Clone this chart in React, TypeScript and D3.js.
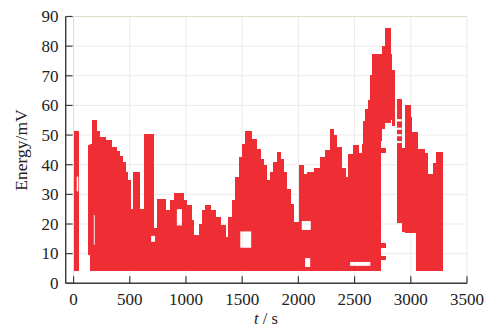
import React from "react";
import * as d3 from "d3";

// Energy envelope segments: each segment is a band of
// dense markers spanning [segT0, segT1] seconds and [segLo, segHi] mV.
const segT0 = [0, 124, 142, 164, 208, 231, 284, 340, 380, 409, 440, 462, 485, 505, 530, 587, 631, 711, 738, 815, 859, 889, 978, 1008, 1053, 1067, 1112, 1141, 1171, 1221, 1260, 1304, 1349, 1378, 1408, 1438, 1468, 1497, 1527, 1586, 1630, 1660, 1689, 1719, 1749, 1778, 1808, 1838, 1867, 1897, 1927, 1958, 2005, 2045, 2075, 2135, 2190, 2238, 2283, 2312, 2342, 2386, 2416, 2445, 2490, 2534, 2563, 2578, 2593, 2623, 2638, 2653, 2727, 2742, 2771, 2816, 2831, 2732, 2732, 2732, 2875, 2919, 2949, 2994, 3008, 3050, 3058, 3127, 3153, 3198, 3225];
const segT1 = [42, 142, 164, 208, 231, 284, 340, 380, 409, 440, 462, 485, 505, 530, 587, 631, 711, 738, 815, 859, 889, 978, 1008, 1053, 1067, 1112, 1141, 1171, 1221, 1260, 1304, 1349, 1378, 1408, 1438, 1468, 1497, 1527, 1586, 1630, 1660, 1689, 1719, 1749, 1778, 1808, 1838, 1867, 1897, 1927, 1958, 2005, 2045, 2075, 2135, 2190, 2238, 2283, 2312, 2342, 2386, 2416, 2445, 2490, 2534, 2563, 2578, 2593, 2623, 2638, 2653, 2727, 2742, 2771, 2816, 2831, 2860, 2772, 2772, 2772, 2919, 2949, 2994, 3008, 3050, 3058, 3127, 3153, 3198, 3225, 3284];
const segLo = [4.2, 9.5, 4.2, 4.2, 4.2, 4.2, 4.2, 4.2, 4.2, 4.2, 4.2, 4.2, 4.2, 4.2, 4.2, 4.2, 4.2, 4.2, 4.2, 4.2, 4.2, 4.2, 4.2, 4.2, 4.2, 4.2, 4.2, 4.2, 4.2, 4.2, 4.2, 4.2, 4.2, 4.2, 4.2, 4.2, 4.2, 4.2, 4.2, 4.2, 4.2, 4.2, 4.2, 4.2, 4.2, 4.2, 4.2, 4.2, 4.2, 4.2, 4.2, 4.2, 4.2, 4.2, 4.2, 4.2, 4.2, 4.2, 4.2, 4.2, 4.2, 4.2, 4.2, 4.2, 4.2, 4.2, 4.2, 4.2, 4.2, 4.2, 4.2, 4.2, 48, 52, 54, 55, 53, 43.8, 11.8, 7.7, 20.2, 17.3, 17, 17, 17, 4.2, 4.2, 4.2, 4.2, 4.2, 4.2];
const segHi = [51.5, 46.5, 47, 55.2, 51.5, 49.5, 48.5, 46, 44.5, 43, 41, 37.5, 35, 25.2, 37.5, 25, 50.4, 18.5, 28.5, 24.6, 28, 30.4, 28, 26.3, 21.2, 16.2, 20.1, 24.6, 26.5, 24.6, 22.3, 19.5, 15.6, 22.3, 28, 35.8, 42.6, 47.1, 51.3, 48.8, 45.2, 42, 39.8, 34.7, 37.5, 41, 44.3, 42, 37.5, 31.9, 26.9, 20.7, 39.8, 37, 37.5, 39, 42.6, 45, 52.1, 50, 46, 39, 36, 43.7, 46.5, 44, 47, 54.9, 58.9, 62, 70.1, 77.4, 77.4, 80.2, 86.2, 77.4, 71.8, 45.8, 13.5, 9.3, 62.2, 45.5, 60.3, 56, 51, 51, 45.4, 43.8, 37, 40.5, 44.3];

// Empty pockets inside the marker cloud (time range, energy range).
const holeT0 = [1483, 919, 2460, 180, 690, 2030, 2060, 2875, 2875, 2875, 2875, 28];
const holeT1 = [1580, 964, 2640, 188, 725, 2110, 2105, 2919, 2919, 2919, 2919, 42];
const holeLo = [12, 19.5, 5.9, 13, 14, 18, 5.5, 54.6, 51.8, 49.6, 47.3, 31];
const holeHi = [17.5, 25, 7.2, 23, 16, 21, 8.5, 55.4, 52.5, 50.3, 48, 36];

const xTicks = [0, 500, 1000, 1500, 2000, 2500, 3000, 3500];
const yTicks = [0, 10, 20, 30, 40, 50, 60, 70, 80, 90];

const W = 489;
const H = 329;
const RED = "#ee2d35";

export default function App() {
  const x = d3.scaleLinear().domain([-70, 3500]).range([65.7, 467]);
  const y = d3.scaleLinear().domain([0, 90]).range([283.3, 16.5]);
  const font = "'Liberation Serif', 'Times New Roman', serif";
  const axisColor = "#3a3a3a";

  return (
    <svg
      width={W}
      height={H}
      style={{ position: "absolute", left: 0, top: 0, background: "#fff" }}
    >
      <defs>
        <mask id="holes">
          <rect x={0} y={0} width={W} height={H} fill="#fff" />
          {holeT0.map((t0, i) => (
            <rect
              key={i}
              x={x(t0)}
              y={y(holeHi[i])}
              width={x(holeT1[i]) - x(t0)}
              height={y(holeLo[i]) - y(holeHi[i])}
              fill="#000"
            />
          ))}
        </mask>
      </defs>

      {/* grid */}
      {xTicks.map((t) => (
        <line
          key={"gx" + t}
          x1={x(t)}
          x2={x(t)}
          y1={y(90)}
          y2={y(0)}
          stroke={t === 0 ? "#e2dcc2" : "#ebebeb"}
          strokeWidth={1}
        />
      ))}
      {yTicks.slice(1).map((v) => (
        <line
          key={"gy" + v}
          x1={x(0)}
          x2={x(3500)}
          y1={y(v)}
          y2={y(v)}
          stroke={v === 90 ? "#e2dcc2" : "#ebebeb"}
          strokeWidth={1}
        />
      ))}

      {/* data */}
      <g mask="url(#holes)" shapeRendering="crispEdges">
        {segT0.map((t0, i) => (
          <rect
            key={i}
            x={x(t0)}
            y={y(segHi[i])}
            width={x(segT1[i]) - x(t0) + 0.4}
            height={y(segLo[i]) - y(segHi[i])}
            fill={RED}
          />
        ))}
      </g>

      {/* axes */}
      <line x1={x(-70)} x2={x(-70)} y1={y(90)} y2={y(0)} stroke={axisColor} strokeWidth={1.4} />
      <line x1={x(-70)} x2={x(3500)} y1={y(0)} y2={y(0)} stroke={axisColor} strokeWidth={1.4} />
      {yTicks.map((v) => (
        <line
          key={"ty" + v}
          x1={x(-70)}
          x2={x(-70) + 7}
          y1={y(v)}
          y2={y(v)}
          stroke={axisColor}
          strokeWidth={1.2}
        />
      ))}
      {xTicks.map((t) => (
        <line
          key={"tx" + t}
          x1={x(t)}
          x2={x(t)}
          y1={y(0)}
          y2={y(0) - 7}
          stroke={axisColor}
          strokeWidth={1.2}
        />
      ))}

      {/* tick labels */}
      {yTicks.map((v) => (
        <text
          key={"ly" + v}
          x={58.5}
          y={y(v) + 5.8}
          textAnchor="end"
          fontFamily={font}
          fontSize={17}
          fill="#222"
        >
          {v}
        </text>
      ))}
      {xTicks.map((t) => (
        <text
          key={"lx" + t}
          x={x(t)}
          y={305}
          textAnchor="middle"
          fontFamily={font}
          fontSize={17}
          fill="#222"
        >
          {t}
        </text>
      ))}

      {/* axis titles */}
      <text
        transform={`translate(26.5,150) rotate(-90)`}
        textAnchor="middle"
        fontFamily={font}
        fontSize={17.5}
        fill="#222"
      >
        Energy/mV
      </text>
      <text x={266} y={323.5} textAnchor="middle" fontFamily={font} fontSize={16.5} fill="#222">
        <tspan fontStyle="italic">t</tspan>
        <tspan> / s</tspan>
      </text>
    </svg>
  );
}
